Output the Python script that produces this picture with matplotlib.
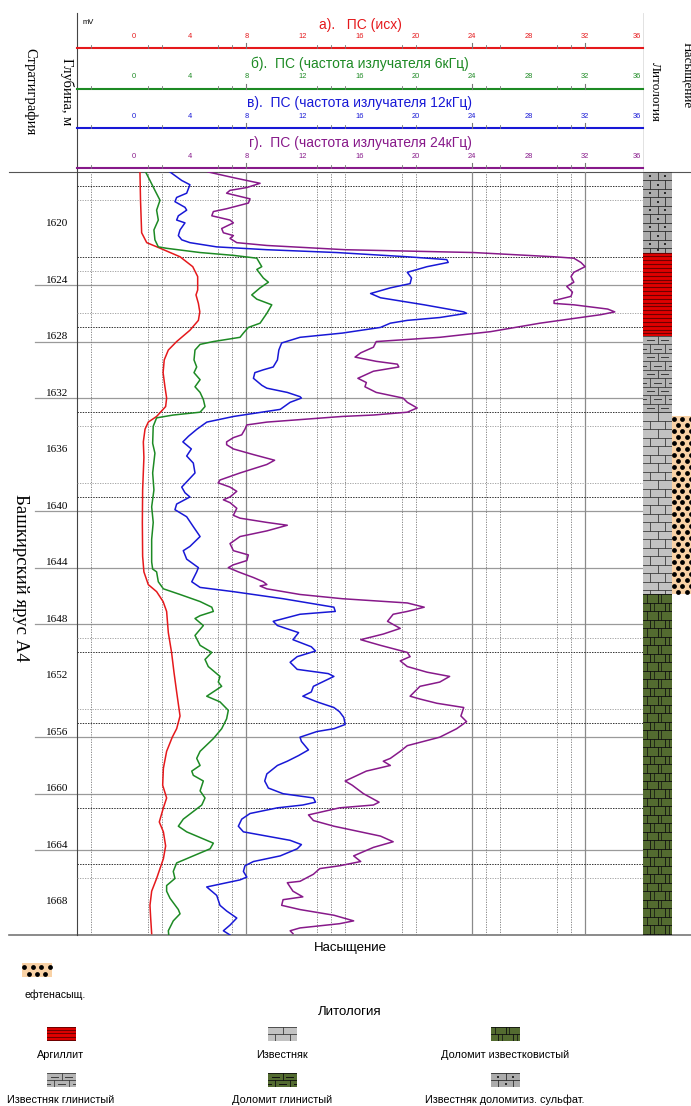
import numpy as np
import matplotlib
matplotlib.use('Agg')
import matplotlib.pyplot as plt
from matplotlib import transforms

plt.rcParams['font.family'] = ['Liberation Sans', 'DejaVu Sans']

# =============================================================================
# DATA (depth in m, SP in mV)
# =============================================================================
red_depth = [1616, 1618, 1620.3, 1621, 1621.4, 1622, 1622.7, 1623.4, 1624.35, 1624.7, 1625.3, 1625.9,
             1626.5, 1627.2, 1628, 1628.6, 1629.3, 1630.2, 1631.2, 1632, 1632.6, 1633.3, 1633.7, 1634.2,
             1635.1, 1636.2, 1638.5, 1640.8, 1643.2, 1644.3, 1645.2, 1645.7, 1646.4, 1647.1, 1648.6,
             1650, 1651.4, 1652.8, 1654.5, 1655.4, 1656, 1657, 1658.2, 1659.4, 1660.3, 1661, 1662,
             1662.7, 1663.7, 1664.6, 1666, 1666.9, 1667.9, 1668.8, 1669.9]
red_mv = [0.46, 0.5, 0.58, 0.94, 1.9, 3.3, 4.2, 4.55, 4.55, 4.43, 4.6, 4.7,
          4.6, 4.0, 3.06, 2.47, 2.18, 2.1, 2.23, 2.35, 2.28, 1.64, 1.05, 0.82,
          0.7, 0.74, 0.65, 0.63, 0.65, 0.74, 1.05, 1.64, 2.1, 2.35, 2.47,
          2.7, 2.87, 3.06, 3.3, 3.06, 2.75, 2.35, 2.12, 2.07, 2.35, 2.12, 1.83,
          2.12, 2.28, 2.12, 1.64, 1.29, 1.17, 1.22, 1.29]

green_depth = [1616, 1616.6, 1617.3, 1618, 1618.7, 1619.4, 1620.1, 1620.8, 1621.3, 1621.4, 1621.7, 1621.9,
               1622.1, 1622.7, 1622.9, 1623.5, 1623.8, 1624.2, 1624.7, 1625, 1625.4, 1626, 1626.7, 1627,
               1627.4, 1627.7, 1628, 1628.2, 1628.6, 1629.3, 1629.8, 1630.2, 1630.7, 1631.2, 1631.6,
               1632.1, 1632.6, 1633, 1633.2, 1633.4, 1634, 1635.2, 1635.9, 1637.3, 1638.5, 1639.7,
               1640.8, 1642, 1643.6, 1644.1, 1644.3, 1645, 1645.5, 1645.9, 1646.4, 1646.8, 1647.1,
               1647.4, 1647.6, 1648.1, 1648.8, 1649.5, 1650, 1650.5, 1651, 1651.7, 1652.1, 1652.4,
               1653.1, 1653.5, 1654.1, 1654.7, 1655.4, 1656.1, 1657, 1657.5, 1658, 1658.4, 1658.7,
               1659.1, 1659.8, 1660.3, 1660.8, 1661.8, 1662.3, 1662.7, 1663.5, 1663.9, 1664.4, 1664.9,
               1665.5, 1666, 1666.5, 1666.9, 1667.4, 1668.2, 1668.5, 1669, 1669.7, 1670]
green_mv = [0.86, 1.17, 1.52, 1.88, 1.64, 1.76, 1.45, 1.52, 1.76, 2.35, 4.72, 7.08,
            8.74, 9.09, 8.74, 9.2, 9.56, 8.97, 8.38, 8.74, 9.8, 9.45, 8.97, 8.14,
            7.79, 7.55, 5.66, 4.72, 4.36, 4.29, 4.48, 4.29, 4.72, 4.36, 4.72,
            4.95, 5.07, 4.72, 2.82, 1.64, 1.4, 1.36, 1.52, 1.36, 1.45, 1.29,
            1.4, 1.29, 1.29, 1.36, 1.64, 1.76, 2.12, 3.3, 4.72, 5.55, 5.66,
            4.72, 4.36, 4.95, 4.36, 4.72, 5.55, 5.07, 5.3, 6.13, 6.01, 6.25,
            5.19, 6.13, 6.72, 6.6, 6.25, 5.66, 4.72, 4.48, 4.72, 4.13, 4.24,
            4.95, 4.72, 5.07, 4.84, 3.53, 3.18, 3.77, 5.66, 5.43, 4.24, 3.06,
            2.82, 2.94, 2.35, 2.35, 2.59, 3.18, 3.3, 2.82, 2.47, 2.5]

blue_depth = [1616, 1616.6, 1616.9, 1617.5, 1617.8, 1618.1, 1618.5, 1618.7, 1619.1, 1619.4, 1619.6, 1620.1,
              1620.5, 1620.8, 1621, 1621.3, 1621.5, 1621.7, 1622, 1622.2, 1622.4, 1622.7, 1623.1, 1623.5,
              1623.9, 1624.2, 1624.6, 1624.9, 1625.4, 1625.9, 1626, 1626.3, 1626.5, 1626.7, 1627, 1627.4,
              1627.7, 1628.1, 1628.6, 1629.3, 1629.8, 1630, 1630.2, 1630.6, 1631.1, 1631.3, 1631.6,
              1631.9, 1632, 1632.3, 1632.8, 1633.3, 1633.7, 1634.2, 1634.7, 1635.1, 1635.6, 1636.1,
              1636.6, 1637.3, 1638.3, 1638.7, 1639, 1639.5, 1639.9, 1640.4, 1641.1, 1641.8, 1642.5,
              1642.8, 1643.4, 1644, 1644.3, 1645, 1645.4, 1645.7, 1646.2, 1646.8, 1647.1, 1647.3,
              1647.8, 1648.1, 1648.4, 1648.6, 1649.1, 1649.6, 1649.9, 1650.3, 1650.7, 1651.2, 1651.5,
              1651.7, 1652.4, 1652.8, 1653.1, 1653.5, 1653.9, 1654.2, 1654.6, 1655.1, 1655.4, 1655.6,
              1656, 1656.3, 1656.9, 1657.3, 1657.7, 1658, 1658.6, 1659.1, 1659.6, 1660, 1660.3,
              1660.6, 1660.8, 1661, 1661.4, 1661.8, 1662.3, 1662.7, 1663, 1663.3, 1663.6, 1663.9,
              1664.4, 1664.8, 1665.1, 1665.5, 1665.9, 1666.1, 1666.4, 1666.6, 1666.8, 1667.2, 1667.9,
              1668.3, 1668.8, 1669.3, 1669.7, 1670]
blue_mv = [2.59, 3.42, 4.0, 3.77, 3.06, 2.94, 3.65, 3.77, 3.18, 3.06, 3.65, 3.3,
           3.18, 3.42, 4.0, 5.9, 9.45, 14.4, 19.4, 22.2, 22.3, 20.8, 19.4, 19.7,
           19.6, 18.2, 16.8, 17.5, 20.6, 23.4, 23.6, 21.7, 19.4, 18.2, 17.5, 14.8,
           11.8, 10.5, 10.3, 10.2, 9.9, 9.2, 8.6, 8.5, 9.1, 9.45, 10.9,
           11.8, 11.9, 11.1, 10.4, 7.1, 5.2, 4.5, 3.9, 3.5, 4.1, 3.77,
           4.24, 4.36, 3.42, 3.65, 4.0, 3.06, 2.94, 3.77, 4.24, 4.72, 4.0,
           3.53, 3.77, 4.6, 4.48, 4.13, 4.72, 7.08, 10.6, 14.2, 14.3, 11.8,
           9.9, 10.2, 11.1, 11.7, 11.3, 12.6, 12.9, 11.6, 11.1, 11.6, 13.8,
           14.2, 12.75, 12.6, 12.0, 13.0, 14.2, 14.6, 14.9, 15.0, 14.2, 13.0,
           11.8, 11.9, 12.4, 11.7, 10.9, 10.2, 9.45, 9.3, 9.56, 10.6, 12.75,
           12.9, 12.0, 10.2, 8.26, 7.67, 7.43, 7.79, 9.45, 11.1, 11.9, 11.6,
           10.4, 8.5, 7.9, 7.79, 8.03, 7.55, 6.13, 5.19, 5.43, 5.9, 6.13,
           6.6, 7.32, 6.84, 6.37, 6.84]

purple_depth = [1616, 1616.4, 1616.8, 1617.1, 1617.3, 1617.5, 1617.9, 1618.2, 1618.6, 1618.8, 1619.1, 1619.4,
                1619.6, 1620, 1620.3, 1620.5, 1620.7, 1621, 1621.2, 1621.5, 1621.7, 1622, 1622.1, 1622.4,
                1622.7, 1623.1, 1623.4, 1623.8, 1624.1, 1624.5, 1624.8, 1625.1, 1625.3, 1625.4, 1625.7,
                1625.9, 1626.1, 1626.7, 1627.3, 1627.7, 1628, 1628.4, 1628.8, 1629.1, 1629.4, 1629.6,
                1629.8, 1630.1, 1630.6, 1630.9, 1631.2, 1631.6, 1632, 1632.3, 1632.7, 1633, 1633.2,
                1633.3, 1633.7, 1633.9, 1634.2, 1634.6, 1634.8, 1635.1, 1635.3, 1635.6, 1636, 1636.4,
                1636.7, 1637.3, 1637.8, 1638, 1638.3, 1638.6, 1639, 1639.2, 1639.4, 1639.8, 1640.3,
                1640.5, 1640.8, 1641, 1641.4, 1641.8, 1642.3, 1642.8, 1643.1, 1643.5, 1643.8, 1644,
                1644.3, 1644.7, 1645, 1645.2, 1645.3, 1645.5, 1645.9, 1646.2, 1646.5, 1646.8, 1647.1,
                1647.3, 1647.8, 1648.3, 1648.7, 1649.1, 1649.5, 1650, 1650.3, 1650.6, 1651, 1651.4,
                1651.7, 1652.1, 1652.4, 1653.1, 1653.3, 1653.6, 1653.9, 1654.5, 1654.9, 1655.4, 1656,
                1656.6, 1657, 1657.5, 1657.7, 1658, 1658.4, 1659.1, 1659.4, 1660, 1660.6, 1660.8,
                1661, 1661.5, 1661.9, 1662.3, 1663, 1663.4, 1663.8, 1664.4, 1664.8, 1665.1, 1665.3,
                1665.7, 1666.2, 1666.3, 1666.9, 1667.3, 1667.5, 1667.9, 1668.2, 1668.6, 1669, 1669.2,
                1669.5, 1669.7, 1669.9]
purple_mv = [5.3, 7.08, 8.97, 8.03, 6.84, 6.6, 8.26, 8.14, 6.6, 5.66, 5.55, 6.84,
             7.08, 6.25, 6.37, 7.08, 6.84, 7.32, 9.45, 15.0, 24.1, 29.8, 31.2, 31.7,
             32.0, 31.2, 31.0, 31.2, 30.7, 31.1, 31.0, 29.8, 29.8, 31.2, 33.6,
             34.1, 33.1, 28.8, 25.3, 21.7, 17.2, 17.0, 16.1, 15.7, 17.2, 18.7,
             18.8, 17.0, 15.9, 16.5, 16.4, 17.2, 19.1, 19.4, 20.1, 19.4, 17.0,
             14.8, 9.45, 8.03, 7.9, 7.67, 7.08, 6.6, 6.6, 7.08, 8.5, 10.0,
             9.45, 7.55, 6.13, 6.0, 6.84, 7.32, 6.84, 6.37, 6.84, 7.32, 7.08,
             7.55, 9.45, 10.9, 9.45, 7.55, 6.84, 7.08, 8.14, 8.03, 7.08, 6.72,
             7.43, 8.5, 9.2, 9.45, 8.97, 9.45, 11.8, 14.8, 19.4, 20.6, 19.4,
             18.4, 18.0, 18.9, 17.7, 16.1, 17.5, 19.4, 19.6, 18.9, 19.4, 20.8,
             22.4, 21.7, 20.3, 19.6, 20.3, 21.5, 23.4, 23.2, 23.6, 22.9, 21.7,
             19.4, 18.9, 18.2, 17.7, 18.2, 16.5, 15.0, 15.5, 16.3, 17.4, 17.0,
             14.6, 12.4, 12.75, 14.2, 17.5, 18.4, 17.0, 15.6, 16.1, 14.6, 13.2,
             12.75, 11.8, 10.9, 11.3, 12.0, 10.6, 10.5, 11.8, 14.2, 15.6, 14.6,
             11.8, 11.1, 11.3]

track_titles = ['а).   ПС (исх)',
                'б).  ПС (частота излучателя 6кГц)',
                'в).  ПС (частота излучателя 12кГц)',
                'г).  ПС (частота излучателя 24кГц)']
track_colors = ['#e5191c', '#1d8a24', '#1818d6', '#87198a']
scale_ticks = [0, 4, 8, 12, 16, 20, 24, 28, 32, 36]

depth_labels = [1620, 1624, 1628, 1632, 1636, 1640, 1644, 1648, 1652, 1656, 1660, 1664, 1668]
depth_solid = [1624, 1628, 1632, 1640, 1644, 1648, 1656, 1660, 1664]
depth_dot_dark = [1617, 1622, 1627, 1633, 1639, 1650, 1655, 1661, 1665]
depth_dot_light = [1618, 1623, 1626, 1634, 1638, 1649, 1654, 1666]
grid_solid = [8, 24, 32]
grid_dot = [-3, 1, 2, 6, 7, 13, 14, 15, 19, 20, 25, 26, 30, 31]

litho_top = [1616, 1621.7, 1627.6, 1633.0, 1645.9]
litho_base = [1621.7, 1627.6, 1633.0, 1645.9, 1670]
litho_kind = ['Известняк доломитиз. сульфат.', 'Аргиллит', 'Известняк глинистый',
              'Известняк', 'Доломит известковистый']
sat_top = [1633.3]
sat_base = [1645.9]

legend_kinds = ['Аргиллит', 'Известняк', 'Доломит известковистый',
                'Известняк глинистый', 'Доломит глинистый', 'Известняк доломитиз. сульфат.']

litho_colors = {'Аргиллит': ('#e00000', '#6e0000'),
                'Известняк': ('#c2c2c2', '#3c3c3c'),
                'Известняк глинистый': ('#b4b4b4', '#3c3c3c'),
                'Известняк доломитиз. сульфат.': ('#ababab', '#2c2c2c'),
                'Доломит известковистый': ('#536b30', '#0f0f0f'),
                'Доломит глинистый': ('#536b30', '#0f0f0f')}

# =============================================================================
# HELPERS
# =============================================================================
W, H = 691, 1106
fig = plt.figure(figsize=(W / 100, H / 100), dpi=100)


def px_axes(x0, y0, x1, y1):
    a = fig.add_axes([x0 / W, 1 - y1 / H, (x1 - x0) / W, (y1 - y0) / H])
    a.axis('off')
    return a


def draw_litho(a, kind, top, base, row):
    fc, lc = litho_colors[kind]
    a.fill_between([0, 1], top, base, color=fc, lw=0)
    if kind == 'Аргиллит':
        for y in np.arange(top, base, row / 2.2):
            a.plot([0, 1], [y, y], color=lc, lw=0.8)
        return
    for i, y in enumerate(np.arange(top, base, row)):
        y2 = min(y + row, base)
        a.plot([0, 1], [y, y], color=lc, lw=0.6)
        joints = [0.5] if i % 2 == 0 else [0.25, 0.75]
        for xj in joints:
            a.plot([xj, xj], [y, y2], color=lc, lw=0.6)
        centers = [0.25, 0.75] if i % 2 == 0 else [0.0, 0.5, 1.0]
        ym = (y + y2) / 2
        if 'глинист' in kind:
            for xc in centers:
                a.plot([xc - 0.12, xc + 0.12], [ym, ym], color=lc, lw=0.7)
        if 'сульфат' in kind:
            inner = [xc for xc in centers if 0 < xc < 1]
            a.scatter(inner, [ym] * len(inner), s=2, marker='s', color=lc, lw=0)
        if 'известков' in kind:
            for xc in centers:
                a.plot([xc - 0.12, xc - 0.12], [y, y2], color=lc, lw=0.5)


def draw_oil(a, top, base, row):
    a.fill_between([0, 1], top, base, color='#f9d2a6', lw=0)
    for i, y in enumerate(np.arange(top + row / 2, base, row)):
        xs = np.arange(0.08 if i % 2 == 0 else 0.22, 1.0, 0.28)
        a.scatter(xs, [y] * len(xs), s=12, color='black', lw=0)


# =============================================================================
# AXES
# =============================================================================
ov = px_axes(0, 0, W, H)
ov.set_xlim(0, W)
ov.set_ylim(H, 0)

ax = px_axes(77, 172, 643, 935)
ax.set_xlim(-4, 36.1)
ax.set_ylim(1670, 1616)

xh = transforms.blended_transform_factory(ax.transData, ov.transData)   # x in mV, y in px
yd = transforms.blended_transform_factory(ov.transData, ax.transData)   # x in px, y in depth

# grid
for g in grid_solid:
    ax.axvline(g, color='#8a8a8a', lw=0.9)
for g in grid_dot:
    ax.axvline(g, color='#777777', lw=0.6, ls=(0, (1.5, 1.5)))
for d in depth_solid:
    ov.plot([35, 643], [d, d], transform=yd, color='#9a9a9a', lw=0.9)
for d in depth_dot_dark:
    ax.axhline(d, color='#333333', lw=0.7, ls=(0, (1.5, 1.2)))
for d in depth_dot_light:
    ax.axhline(d, color='#999999', lw=0.6, ls=(0, (1.5, 1.5)))

# curves
ax.plot(red_mv, red_depth, color=track_colors[0], lw=1.1)
ax.plot(green_mv, green_depth, color=track_colors[1], lw=1.1)
ax.plot(blue_mv, blue_depth, color=track_colors[2], lw=1.1)
ax.plot(purple_mv, purple_depth, color=track_colors[3], lw=1.1)

# frame lines
ov.plot([9, W], [172, 172], color='#555555', lw=0.8)
ov.plot([9, W], [935, 935], color='#777777', lw=1.2)
ov.plot([77, 77], [13, 935], color='#444444', lw=0.8)
ov.plot([643, 643], [13, 172], color='#dddddd', lw=0.6)

# depth labels
for d in depth_labels:
    ov.text(68, d - 0.35, str(d), transform=yd, ha='right', va='center',
            fontsize=8, family='Liberation Serif')

# headers of tracks
line_y = [48, 89, 128, 168]
title_y = [25, 64, 103, 143]
tick_y = [37, 77, 117, 157]
for k in range(4):
    c = track_colors[k]
    ov.plot([-4, 36.1], [line_y[k], line_y[k]], transform=xh, color=c, lw=1.5)
    ov.text(360, title_y[k], track_titles[k], color=c, fontsize=10, ha='center', va='center')
    for t in scale_ticks:
        ov.text(t, tick_y[k], str(t), transform=xh, color=c, fontsize=5.4,
                ha='center' if t < 36 else 'right', va='center')
    for g in grid_dot:
        ov.plot([g, g], [line_y[k] - 3, line_y[k]], transform=xh, color='#777777', lw=0.6)
    for g in grid_solid:
        ov.plot([g, g], [line_y[k] - 5, line_y[k]], transform=xh, color='#777777', lw=0.8)
ov.text(88, 23, 'mV', fontsize=5.5, ha='center', va='center')

ov.text(30, 92, 'Стратиграфия', rotation=270, fontsize=10.5, family='Liberation Serif',
        ha='center', va='center')
ov.text(67, 92, 'Глубина, м', rotation=270, fontsize=10.5, family='Liberation Serif',
        ha='center', va='center')
ov.text(655, 92, 'Литология', rotation=270, fontsize=9.5, family='Liberation Serif',
        ha='center', va='center')
ov.text(687, 75, 'Насыщение', rotation=270, fontsize=9.5, family='Liberation Serif',
        ha='center', va='center')
ov.text(20, 578, 'Башкирский ярус А4', rotation=270, fontsize=13.5, family='Liberation Serif',
        ha='center', va='center')

# lithology and saturation columns
lith = px_axes(643, 172, 672, 935)
lith.set_xlim(0, 1)
lith.set_ylim(1670, 1616)
for t, b, k in zip(litho_top, litho_base, litho_kind):
    draw_litho(lith, k, t, b, 0.6)

sat = px_axes(672, 172, 701, 935)
sat.set_xlim(0, 1)
sat.set_ylim(1670, 1616)
for t, b in zip(sat_top, sat_base):
    draw_oil(sat, t, b, 0.42)

# =============================================================================
# LEGEND
# =============================================================================
ov.text(350, 948, 'Насыщение', fontsize=9.5, ha='center', va='center')
sw = px_axes(22, 963, 52, 977)
sw.set_xlim(0, 1)
sw.set_ylim(1, 0)
draw_oil(sw, 0, 1, 0.5)
ov.text(55, 995, 'ефтенасыщ.', fontsize=7.6, ha='center', va='center')

ov.text(350, 1012, 'Литология', fontsize=9.5, ha='center', va='center')
leg_x = [61, 282, 505]
leg_sw_y = [1027, 1073]
leg_lab_y = [1055, 1100]
for n, kind in enumerate(legend_kinds):
    r, c = divmod(n, 3)
    s = px_axes(leg_x[c] - 14, leg_sw_y[r], leg_x[c] + 15, leg_sw_y[r] + 14)
    s.set_xlim(0, 1)
    s.set_ylim(1, 0)
    draw_litho(s, kind, 0, 1, 0.5)
    ov.text(leg_x[c], leg_lab_y[r], kind, fontsize=7.8, ha='center', va='center')

fig.savefig('out.png', dpi=100)
